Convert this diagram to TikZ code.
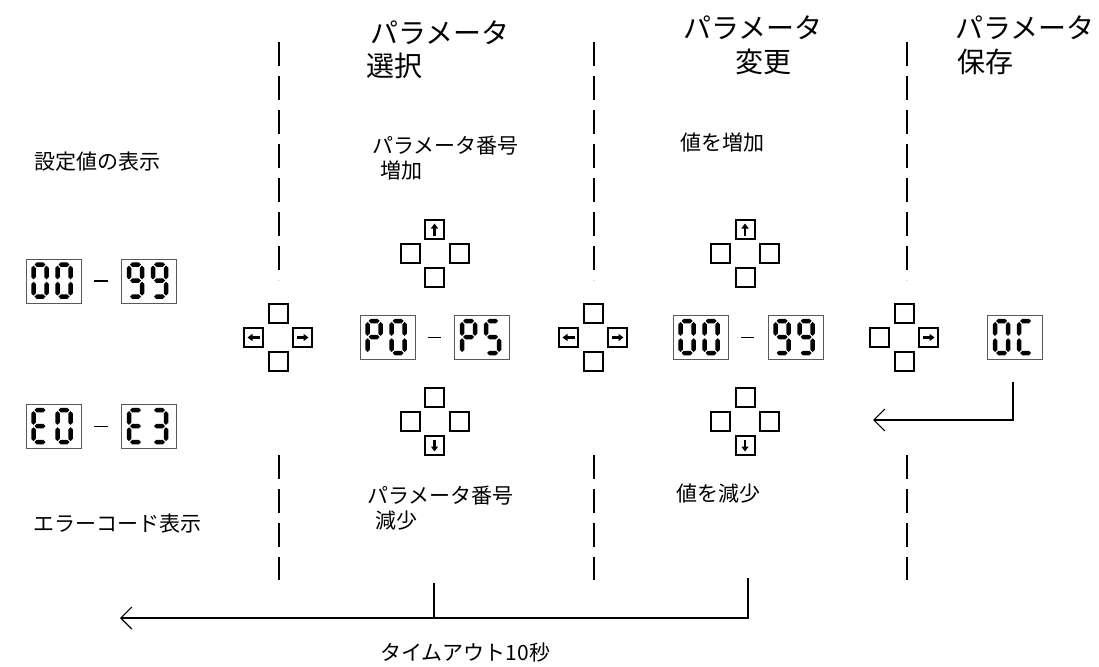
\documentclass[tikz,border=0pt]{standalone}
\usepackage{fontspec}
\setmainfont{Noto Sans CJK JP}
\usetikzlibrary{arrows.meta,calc}
\newcommand{\hsg}[3]{\fill[segc] (#1,#3) -- (#1+2.2,#3-2.2) -- (#2-2.2,#3-2.2) -- (#2,#3) -- (#2-2.2,#3+2.2) -- (#1+2.2,#3+2.2) -- cycle;}
\newcommand{\vsg}[3]{\fill[segc] (#1,#2) -- (#1+2.2,#2+2.2) -- (#1+2.2,#3-2.2) -- (#1,#3) -- (#1-2.2,#3-2.2) -- (#1-2.2,#2+2.2) -- cycle;}
\newcommand{\sgA}{\hsg{3}{14}{2}}
\newcommand{\sgB}{\vsg{15}{3}{16.8}}
\newcommand{\sgC}{\vsg{15}{19.2}{33}}
\newcommand{\sgD}{\hsg{3}{14}{34}}
\newcommand{\sgE}{\vsg{2}{19.2}{33}}
\newcommand{\sgF}{\vsg{2}{3}{16.8}}
\newcommand{\sgG}{\hsg{3}{14}{18}}
\newcommand{\dgZero}{\sgA\sgB\sgC\sgD\sgE\sgF}
\newcommand{\dgNine}{\sgA\sgB\sgC\sgD\sgF\sgG}
\newcommand{\dgE}{\sgA\sgD\sgE\sgF\sgG}
\newcommand{\dgThree}{\sgA\sgB\sgC\sgD\sgG}
\newcommand{\dgP}{\sgA\sgB\sgE\sgF\sgG}
\newcommand{\dgFive}{\sgA\sgC\sgD\sgF\sgG}
\newcommand{\dgC}{\sgA\sgD\sgE\sgF}
\newcommand{\dispbox}[5]{%
  \node[disp] (#1) at (#2,#3) {};
  \begin{scope}[shift={(#1.north west)}]
    \begin{scope}[shift={(6,4)}] #4 \end{scope}
    \begin{scope}[shift={(30,4)}] #5 \end{scope}
  \end{scope}}
\newcommand{\pad}[3]{%
  \node[btn] (#1t) at (#2,#3-24) {};
  \node[btn] (#1l) at (#2-24.5,#3) {};
  \node[btn] (#1r) at (#2+24.5,#3) {};
  \node[btn] (#1b) at (#2,#3+24) {};}
\newcommand{\rangedash}[2]{\draw[rdash] ($(#1.east)!0.32!(#2.west)$) -- ($(#1.east)!0.66!(#2.west)$);}
\begin{document}
\begin{tikzpicture}[x=1pt,y=-1pt,
  segc/.style={black},
  disp/.style={draw=black!65, line width=0.9pt, minimum width=55pt, minimum height=44pt, inner sep=0pt, fill=white},
  btn/.style={draw=black, line width=2pt, minimum size=19pt, inner sep=0pt},
  barr/.style={line width=2.2pt, -{Triangle[length=5pt,width=7pt]}},
  rdash/.style={line width=1.4pt},
  sep/.style={line width=1.3pt, dash pattern=on 24pt off 10pt},
  conn/.style={line width=1.3pt},
  tip/.style={-{Straight Barb[length=11pt,width=22pt,line width=1.2pt]}},
  ttl/.style={font=\fontsize{28}{30}\selectfont, anchor=west, inner sep=0pt},
  lbl/.style={font=\fontsize{21}{24}\selectfont, anchor=west, inner sep=0pt}]
\useasboundingbox (0,0) rectangle (1099,666);

% separators
\foreach \x/\n in {279/a,594/b,907/c}{
  \coordinate (s\n1) at (\x,42); \coordinate (s\n2) at (\x,280);
  \coordinate (s\n3) at (\x,455); \coordinate (s\n4) at (\x,580);
  \draw[sep] (s\n1) -- (s\n2);
  \draw[sep] (s\n3) -- (s\n4);
}

% titles
\node[ttl] (t1a) at (370,33) {パラメータ};
\node[ttl] (t1b) at (366,66) {選択};
\node[ttl] (t2a) at (683,28) {パラメータ};
\node[ttl] (t2b) at (735,62) {変更};
\node[ttl] (t3a) at (955,28) {パラメータ};
\node[ttl] (t3b) at (957,62) {保存};

% labels
\node[lbl] (l1) at (34,162) {設定値の表示};
\node[lbl] (l2) at (33,524) {エラーコード表示};
\node[lbl] (u1a) at (372,146) {パラメータ番号};
\node[lbl] (u1b) at (380,171) {増加};
\node[lbl] (v1) at (680,143) {値を増加};
\node[lbl] (d1a) at (367,496) {パラメータ番号};
\node[lbl] (d1b) at (375,521) {減少};
\node[lbl] (v2) at (676,494) {値を減少};
\node[lbl] (to) at (380,653) {タイムアウト10秒};

% displays
\dispbox{dA}{53.5}{281}{\dgZero}{\dgZero}
\dispbox{dB}{149}{281}{\dgNine}{\dgNine}
\rangedash{dA}{dB}
\dispbox{dC}{53.5}{426.5}{\dgE}{\dgZero}
\dispbox{dD}{149}{426.5}{\dgE}{\dgThree}
\rangedash{dC}{dD}
\dispbox{dP}{387.5}{337.5}{\dgP}{\dgZero}
\dispbox{dQ}{482}{337.5}{\dgP}{\dgFive}
\rangedash{dP}{dQ}
\dispbox{dR}{700.5}{337.5}{\dgZero}{\dgZero}
\dispbox{dS}{795.5}{337.5}{\dgNine}{\dgNine}
\rangedash{dR}{dS}
\dispbox{dO}{1015}{337.5}{\dgZero}{\dgC}

% button pads
\pad{pa}{278}{337.5}
\pad{pb}{434.5}{253.5}
\pad{pc}{434.5}{421.5}
\pad{pd}{593}{337.5}
\pad{pe}{745}{253.5}
\pad{pf}{745}{421.5}
\pad{pg}{904}{337.5}
\draw[barr] ([xshift=6pt]pal.center) -- ([xshift=-6pt]pal.center);
\draw[barr] ([xshift=-6pt]par.center) -- ([xshift=6pt]par.center);
\draw[barr] ([yshift=-6pt]pbt.center) -- ([yshift=6pt]pbt.center);
\draw[barr] ([yshift=6pt]pcb.center) -- ([yshift=-6pt]pcb.center);
\draw[barr] ([xshift=6pt]pdl.center) -- ([xshift=-6pt]pdl.center);
\draw[barr] ([xshift=-6pt]pdr.center) -- ([xshift=6pt]pdr.center);
\draw[barr] ([yshift=-6pt]pet.center) -- ([yshift=6pt]pet.center);
\draw[barr] ([yshift=6pt]pfb.center) -- ([yshift=-6pt]pfb.center);
\draw[barr] ([xshift=-6pt]pgr.center) -- ([xshift=6pt]pgr.center);

% save -> return arrow
\coordinate (oA) at (1013,382);
\coordinate (oE) at (873,420);
\draw[conn,tip] (oA) |- (oE);

% timeout arrow
\coordinate (tA) at (748,578);
\coordinate (tB) at (434,583);
\coordinate (tE) at (120,618);
\draw[conn,tip] (tA) |- (tE);
\draw[conn] (tB) -- (tB |- tE);
\end{tikzpicture}
\end{document}
